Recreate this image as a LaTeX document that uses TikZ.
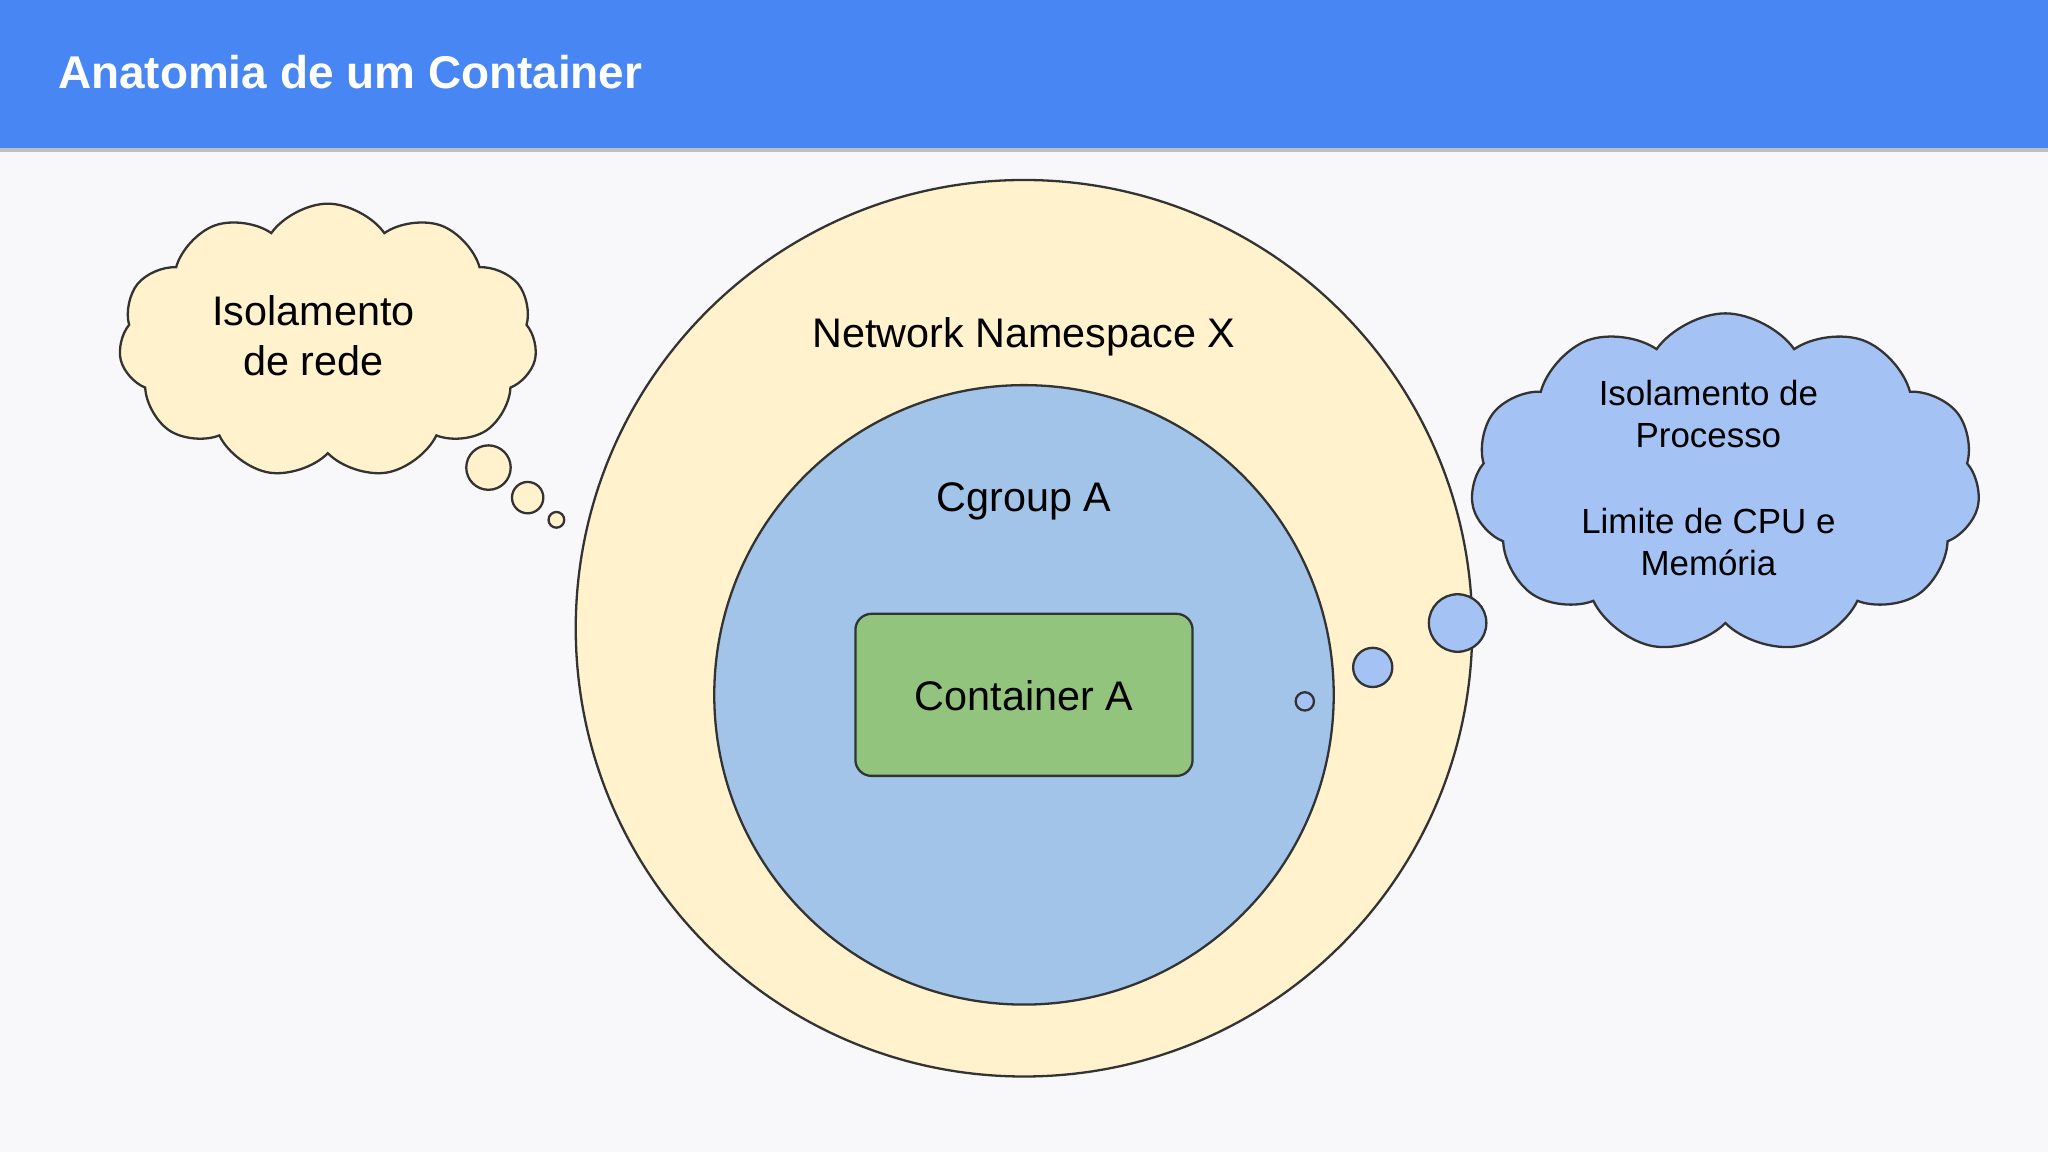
\documentclass[tikz,border=0pt]{standalone}
\usepackage{fontspec}
\setmainfont{Liberation Sans}
\usetikzlibrary{shapes.symbols}
\definecolor{bg}{HTML}{F8F8FA}
\definecolor{hdr}{HTML}{4786F3}
\definecolor{cream}{HTML}{FFF2CC}
\definecolor{lblue}{HTML}{A2C4E9}
\definecolor{cblue}{HTML}{A4C2F4}
\definecolor{green}{HTML}{93C47D}
\definecolor{edge}{HTML}{333333}
\tikzset{
  shp/.style={draw=edge, line width=0.5pt},
  lbl/.style={font=\fontsize{9}{11}\selectfont, align=center},
  cl/.style={shp, cloud, cloud puffs=11, cloud puff arc=110, aspect=1.5, inner sep=0pt}
}
\begin{document}
\begin{tikzpicture}[x=0.01cm,y=-0.01cm]
\fill[bg] (0,0) rectangle (1568,882);
\useasboundingbox (0,0) rectangle (1568,882);
\fill[black!25] (0,112) rectangle (1568,116);
\fill[hdr] (0,0) rectangle (1568,113);
\node[anchor=west, text=white, font=\fontsize{10}{12}\selectfont\bfseries] (title) at (32,55) {Anatomia de um Container};
% circles
\node[shp, circle, fill=cream, minimum size=6.86cm] (ns) at (784,481) {};
\node[shp, circle, fill=lblue, minimum size=4.74cm] (cg) at (784,532) {};
\node[shp, rounded corners=3.5pt, fill=green, minimum width=2.58cm, minimum height=1.24cm] (ca) at (784,532) {};
\node[lbl] (nsl) at (784,258) {Network Namespace X};
\node[lbl] (cgl) at (784,384) {Cgroup A};
\node[lbl] (cal) at (784,533) {Container A};
% left cloud
\node[cl, fill=cream, minimum width=3.2cm, minimum height=2.1cm] (lc) at (251,261) {};
\node[lbl] (lct) at (240,257) {Isolamento\\de rede};
\node[shp, circle, fill=cream, minimum size=0.34cm, inner sep=0] (lb1) at (374,358) {};
\node[shp, circle, fill=cream, minimum size=0.24cm, inner sep=0] (lb2) at (404,381) {};
\node[shp, circle, fill=cream, minimum size=0.12cm, inner sep=0] (lb3) at (426,398) {};
% right cloud
\node[cl, fill=cblue, minimum width=3.9cm, minimum height=2.6cm] (rc) at (1321,370) {};
\node[font=\fontsize{7.6}{9.2}\selectfont, align=center] (rct) at (1308,366) {Isolamento de\\Processo\\[9.5pt]Limite de CPU e\\Memória};
\node[shp, circle, fill=cblue, minimum size=0.44cm, inner sep=0] (rb1) at (1116,477) {};
\node[shp, circle, fill=cblue, minimum size=0.30cm, inner sep=0] (rb2) at (1051,511) {};
\node[shp, circle, fill=cblue, minimum size=0.14cm, inner sep=0] (rb3) at (999,537) {};
\end{tikzpicture}
\end{document}
